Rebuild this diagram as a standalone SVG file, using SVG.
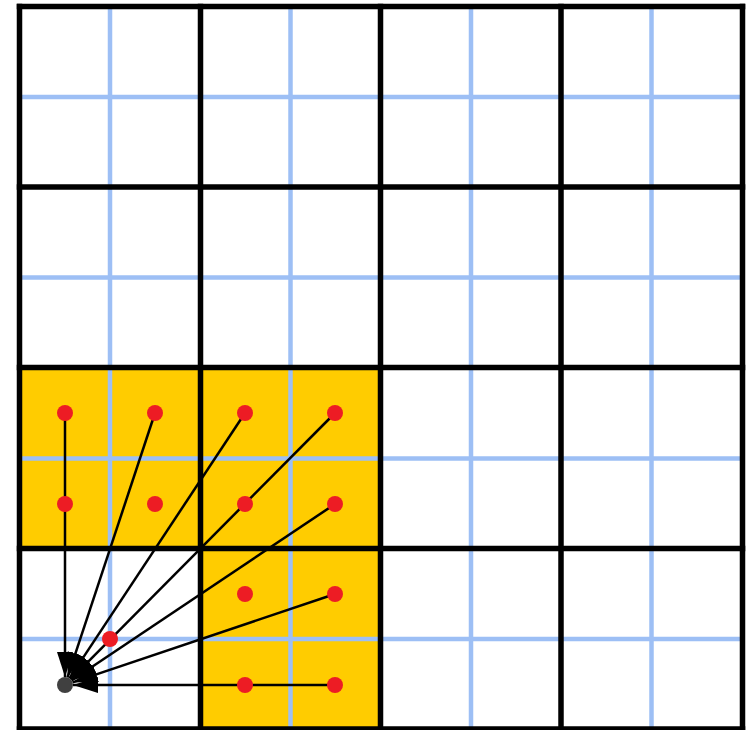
<svg xmlns="http://www.w3.org/2000/svg" width="747" height="730" viewBox="0 0 747 730">
  <style>
    .cell { fill: #ffcc00; }
    .minor { stroke: #9dbff5; stroke-width: 4.5; fill: none; }
    .major { stroke: #000000; stroke-width: 5.5; fill: none; stroke-linecap: square; }
    .edge { stroke: #000000; stroke-width: 2.5; fill: none; }
    .pt { fill: #ed1c24; }
    .target { fill: #404040; }
  </style>
  <defs>
    <marker id="arrow" markerUnits="userSpaceOnUse" markerWidth="27" markerHeight="17" refX="25" refY="8" orient="auto">
      <path d="M0,0 L25,8 L0,16 z" fill="#000000"/>
    </marker>
  </defs>
  <rect width="747" height="730" fill="#ffffff"/>
  <g id="highlighted-cells">
    <rect class="cell" x="19.5" y="367.5" width="181" height="181"/>
    <rect class="cell" x="200.5" y="367.5" width="180" height="181"/>
    <rect class="cell" x="200.5" y="548.5" width="180" height="181"/>
  </g>
  <g id="minor-grid">
    <line class="minor" x1="110" y1="6.5" x2="110" y2="730"/>
    <line class="minor" x1="290.5" y1="6.5" x2="290.5" y2="730"/>
    <line class="minor" x1="471" y1="6.5" x2="471" y2="730"/>
    <line class="minor" x1="651.5" y1="6.5" x2="651.5" y2="730"/>
    <line class="minor" x1="19.5" y1="97" x2="742.5" y2="97"/>
    <line class="minor" x1="19.5" y1="277.5" x2="742.5" y2="277.5"/>
    <line class="minor" x1="19.5" y1="458.5" x2="742.5" y2="458.5"/>
    <line class="minor" x1="19.5" y1="639" x2="742.5" y2="639"/>
  </g>
  <g id="major-grid">
    <line class="major" x1="19.5" y1="6.5" x2="19.5" y2="729"/>
    <line class="major" x1="200.5" y1="6.5" x2="200.5" y2="729"/>
    <line class="major" x1="380.5" y1="6.5" x2="380.5" y2="729"/>
    <line class="major" x1="561" y1="6.5" x2="561" y2="729"/>
    <line class="major" x1="742.5" y1="6.5" x2="742.5" y2="729"/>
    <line class="major" x1="19.5" y1="6.5" x2="742.5" y2="6.5"/>
    <line class="major" x1="19.5" y1="187" x2="742.5" y2="187"/>
    <line class="major" x1="19.5" y1="367.5" x2="742.5" y2="367.5"/>
    <line class="major" x1="19.5" y1="548.5" x2="742.5" y2="548.5"/>
    <line class="major" x1="19.5" y1="729" x2="742.5" y2="729"/>
  </g>
  <g id="connectors">
    <line class="edge" x1="65" y1="413" x2="65" y2="677" marker-end="url(#arrow)"/>
    <line class="edge" x1="155" y1="413" x2="67.51" y2="677.4" marker-end="url(#arrow)"/>
    <line class="edge" x1="245" y1="413" x2="69.41" y2="678.33" marker-end="url(#arrow)"/>
    <line class="edge" x1="335" y1="413" x2="70.64" y2="679.32" marker-end="url(#arrow)"/>
    <line class="edge" x1="335" y1="504" x2="71.64" y2="680.55" marker-end="url(#arrow)"/>
    <line class="edge" x1="335" y1="594" x2="72.58" y2="682.44" marker-end="url(#arrow)"/>
    <line class="edge" x1="335" y1="685" x2="73" y2="685" marker-end="url(#arrow)"/>
  </g>
  <g id="sample-points">
    <circle id="p-65-413" class="pt" cx="65" cy="413" r="8"/>
    <circle id="p-155-413" class="pt" cx="155" cy="413" r="8"/>
    <circle id="p-245-413" class="pt" cx="245" cy="413" r="8"/>
    <circle id="p-335-413" class="pt" cx="335" cy="413" r="8"/>
    <circle id="p-65-504" class="pt" cx="65" cy="504" r="8"/>
    <circle id="p-155-504" class="pt" cx="155" cy="504" r="8"/>
    <circle id="p-245-504" class="pt" cx="245" cy="504" r="8"/>
    <circle id="p-335-504" class="pt" cx="335" cy="504" r="8"/>
    <circle id="p-245-594" class="pt" cx="245" cy="594" r="8"/>
    <circle id="p-335-594" class="pt" cx="335" cy="594" r="8"/>
    <circle id="p-245-685" class="pt" cx="245" cy="685" r="8"/>
    <circle id="p-335-685" class="pt" cx="335" cy="685" r="8"/>
    <circle id="p-110-639" class="pt" cx="110" cy="639" r="8"/>
  </g>
  <g id="target">
    <circle class="target" cx="65" cy="685" r="8"/>
  </g>
</svg>
